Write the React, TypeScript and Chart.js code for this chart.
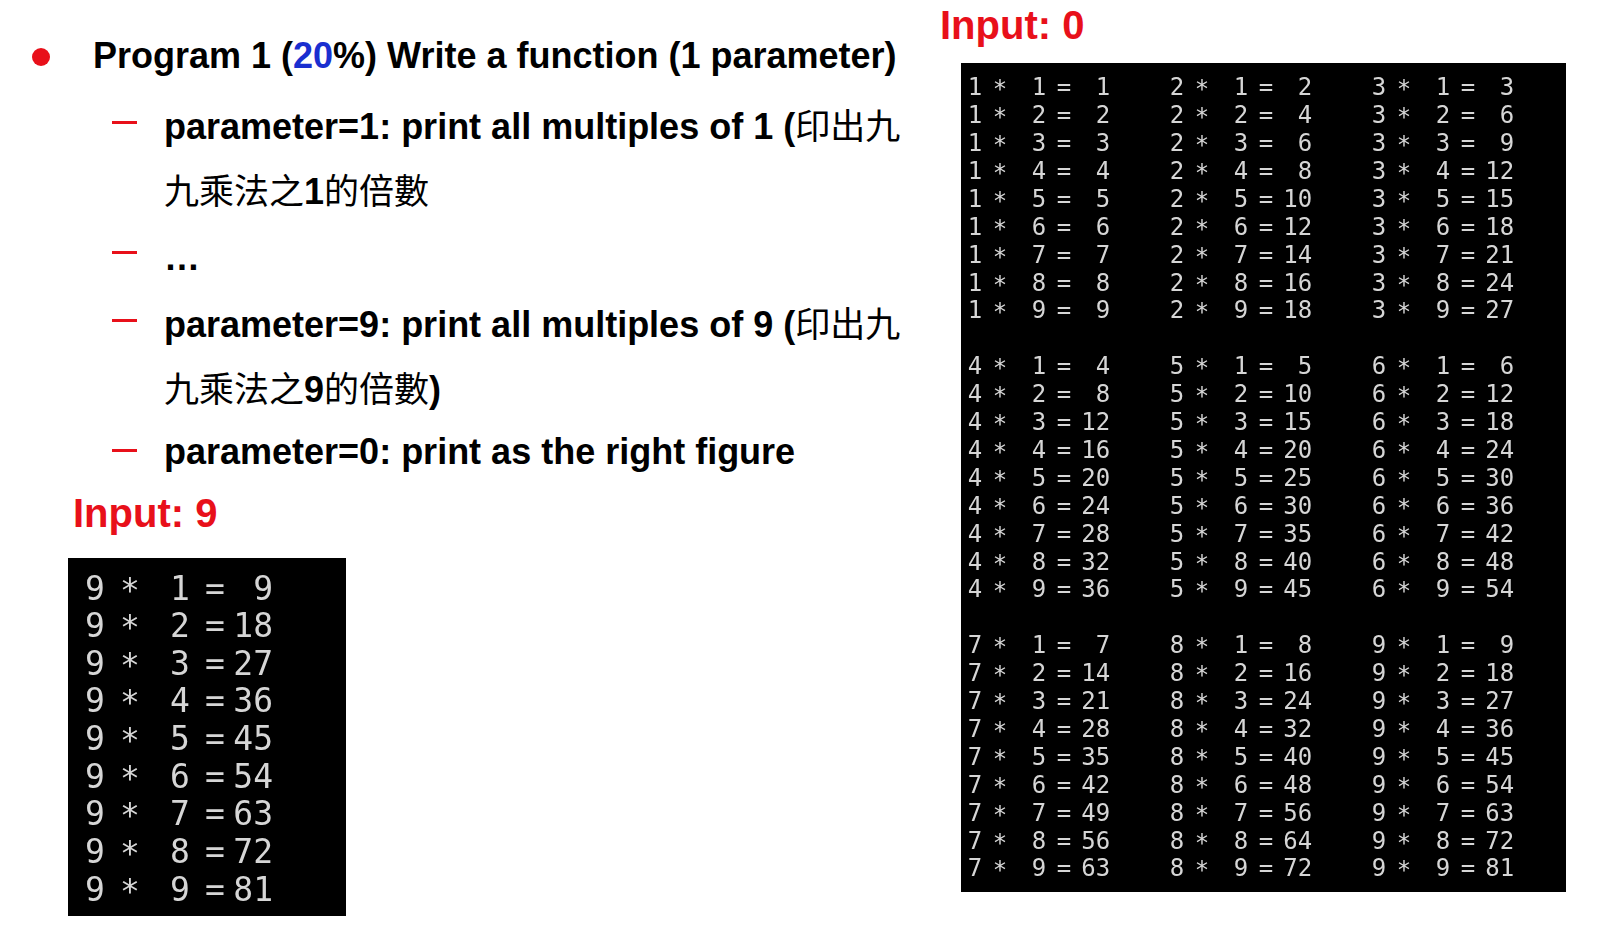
import React, { useEffect, useRef } from 'react';
import { Chart, registerables } from 'chart.js';

Chart.register(...registerables);

// table data
const allTables = [1, 2, 3, 4, 5, 6, 7, 8, 9];
const multipliers = [1, 2, 3, 4, 5, 6, 7, 8, 9];
const singleTable = [9];

const LATIN = '"Liberation Sans", Arial, Helvetica, sans-serif';
const CJK = '"Noto Sans CJK TC", "Noto Sans CJK SC", sans-serif';

interface Cell { x: number; y: number; a: number; b: number }

// draws "a *  b = ab" at each point position
const termText = (font: string, offs: number[]) => ({
  id: 'termText',
  afterDatasetsDraw(chart: any) {
    const ctx = chart.ctx as CanvasRenderingContext2D;
    const ds = chart.data.datasets[0].data as Cell[];
    const xs = chart.scales.x;
    const ys = chart.scales.y;
    ctx.save();
    ctx.font = font;
    ctx.fillStyle = '#d6d6d6';
    ctx.textBaseline = 'middle';
    ds.forEach((c) => {
      const px = xs.getPixelForValue(c.x);
      const py = ys.getPixelForValue(c.y);
      ctx.textAlign = 'center';
      ctx.fillText(String(c.a), px + offs[0], py);
      ctx.fillText('*', px + offs[1], py + 2);
      ctx.fillText(String(c.b), px + offs[2], py);
      ctx.fillText('=', px + offs[3], py);
      ctx.textAlign = 'right';
      ctx.fillText(String(c.a * c.b), px + offs[4], py);
    });
    ctx.restore();
  },
});

const Terminal: React.FC<{
  cells: Cell[]; xr: [number, number]; yr: [number, number];
  font: string; offs: number[]; style: React.CSSProperties;
}> = ({ cells, xr, yr, font, offs, style }) => {
  const ref = useRef<HTMLCanvasElement>(null);
  useEffect(() => {
    if (!ref.current) return;
    const chart = new Chart(ref.current, {
      type: 'scatter',
      data: { datasets: [{ data: cells as any, pointRadius: 0 }] },
      options: {
        animation: false,
        responsive: true,
        maintainAspectRatio: false,
        layout: { padding: 0 },
        plugins: { legend: { display: false }, tooltip: { enabled: false } },
        scales: {
          x: { type: 'linear', min: xr[0], max: xr[1], display: false },
          y: { type: 'linear', min: yr[0], max: yr[1], reverse: true, display: false },
        },
      },
      plugins: [termText(font, offs)],
    });
    return () => chart.destroy();
  }, []);
  return (
    <div style={{ position: 'absolute', background: '#000', ...style }}>
      <canvas ref={ref} />
    </div>
  );
};

const bigCells: Cell[] = [];
allTables.forEach((a, i) => {
  multipliers.forEach((b, j) => {
    bigCells.push({ x: i % 3, y: Math.floor(i / 3) * 10 + j, a, b });
  });
});
const smallCells: Cell[] = [];
singleTable.forEach((a) => multipliers.forEach((b, j) => smallCells.push({ x: 0, y: j, a, b })));

const Dash: React.FC<{ top: number }> = ({ top }) => (
  <div style={{ position: 'absolute', left: 112, top, width: 25, height: 3, background: '#e8101a' }} />
);

const line: React.CSSProperties = {
  position: 'absolute', left: 164, fontFamily: LATIN, fontWeight: 'bold', fontSize: 36,
  color: '#000', whiteSpace: 'nowrap', lineHeight: '40px',
};
const zh: React.CSSProperties = { fontFamily: CJK, fontWeight: 'normal', fontSize: 35 };

export default function App() {
  return (
    <div style={{ position: 'fixed', left: 0, top: 0, width: 1602, height: 950, background: '#fff', overflow: 'hidden' }}>
      <div style={{ position: 'absolute', left: 32, top: 48, width: 18, height: 18, borderRadius: 9, background: '#e8101a' }} />
      <div style={{ ...line, left: 93, top: 36 }}>
        Program 1 (<span style={{ color: '#1a2fd0' }}>20</span>%) Write a function (1 parameter)
      </div>
      <Dash top={121} />
      <div style={{ ...line, top: 104 }}>parameter=1: print all multiples of 1 (<span style={zh}>印出九</span></div>
      <div style={{ ...line, top: 169 }}><span style={zh}>九乘法之</span>1<span style={zh}>的倍數</span></div>
      <Dash top={251} />
      <div style={{ ...line, top: 238 }}>…</div>
      <Dash top={319} />
      <div style={{ ...line, top: 302 }}>parameter=9: print all multiples of 9 (<span style={zh}>印出九</span></div>
      <div style={{ ...line, top: 367 }}><span style={zh}>九乘法之</span>9<span style={zh}>的倍數</span>)</div>
      <Dash top={449} />
      <div style={{ ...line, top: 432 }}>parameter=0: print as the right figure</div>
      <div style={{ ...line, left: 73, top: 493, color: '#e8101a', fontSize: 40 }}>Input: 9</div>
      <div style={{ ...line, left: 940, top: 5, color: '#e8101a', fontSize: 40 }}>Input: 0</div>
      <Terminal
        cells={smallCells}
        xr={[0, 1]}
        yr={[-0.88, 8.64]}
        font={'33px "DejaVu Sans Mono", monospace'}
        offs={[27, 62, 112, 147, 205]}
        style={{ left: 68, top: 558, width: 278, height: 358 }}
      />
      <Terminal
        cells={bigCells}
        xr={[-0.045, 2.95]}
        yr={[-0.93, 28.78]}
        font={'24px "DejaVu Sans Mono", monospace'}
        offs={[5, 30, 69, 94, 140]}
        style={{ left: 961, top: 63, width: 605, height: 829 }}
      />
    </div>
  );
}
